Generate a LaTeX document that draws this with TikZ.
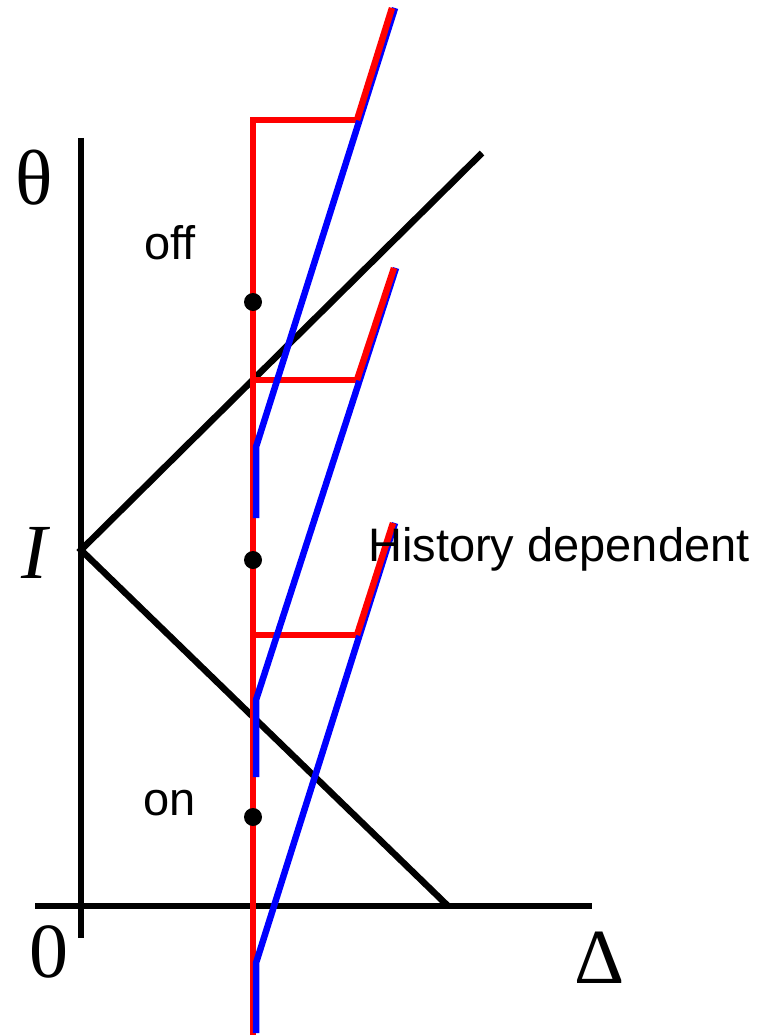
\documentclass[tikz,border=0pt]{standalone}
\usepackage{fontspec}
\setmainfont{Liberation Serif}
\newfontfamily\lsans{Liberation Sans}
\begin{document}
\begin{tikzpicture}[x=1pt,y=-1pt,
  axis/.style={line width=6.5pt,black},
  redl/.style={line width=6.5pt,red,line join=miter},
  bluel/.style={line width=6.5pt,blue},
  dotn/.style={circle,fill=black,inner sep=0pt,minimum size=18pt},
  lbl/.style={font=\lsans\fontsize{47}{47}\selectfont,inner sep=0pt},
  big/.style={font=\fontsize{78}{78}\selectfont,inner sep=0pt}]
\useasboundingbox (0,0) rectangle (764,1035);
% axes
\coordinate (ytop) at (81,138);
\coordinate (ybot) at (81,938);
\coordinate (xl) at (35,906);
\coordinate (xr) at (592,906);
\coordinate (I) at (81,550);
\coordinate (vu) at (482,153);
\coordinate (vd) at (448,906);
\draw[axis] (ytop) -- (ybot);
\draw[axis] (xl) -- (xr);
\draw[axis] (vu) -- (I) -- (vd);
% red verticals and horizontals
\coordinate (rb) at (253,1035);
\coordinate (r1) at (253,120);
\coordinate (h1) at (357,120);
\coordinate (t1) at (392,8);
\coordinate (r2) at (253,380);
\coordinate (h2) at (357,380);
\coordinate (t2) at (394,268);
\coordinate (r3) at (253,635);
\coordinate (h3) at (357,635);
\coordinate (t3) at (393,523);
\draw[redl] (rb) -- (r1) -- (h1);
\draw[redl] (r2) -- (h2);
\draw[redl] (r3) -- (h3);
% blue lines
\coordinate (b1s) at (256,518);
\coordinate (b1k) at (256,447);
\coordinate (b1t) at (395,8);
\coordinate (b2s) at (256,777);
\coordinate (b2k) at (256,700);
\coordinate (b2t) at (396,268);
\coordinate (b3s) at (256,1033);
\coordinate (b3k) at (256,963);
\coordinate (b3t) at (395,523);
\draw[bluel] (b1s) -- (b1k) -- (b1t);
\draw[bluel] (b2s) -- (b2k) -- (b2t);
\draw[bluel] (b3s) -- (b3k) -- (b3t);
% red slants
\draw[redl] (h1) -- (t1);
\draw[redl] (h2) -- (t2);
\draw[redl] (h3) -- (t3);
% dots
\node[dotn] (d1) at (253,302) {};
\node[dotn] (d2) at (253,560) {};
\node[dotn] (d3) at (253,817) {};
% labels
\node[lbl] (off) at (170,243) {off};
\node[lbl] (on) at (170,803) {on};
\node[lbl,anchor=west] (hist) at (368,549) {History dependent};
\node[big] (theta) at (34,178) {θ};
\node[big] (Ilab) at (34,553) {\itshape I};
\node[big] (zero) at (49,952) {0};
\node[big] (delta) at (600,958) {Δ};
\end{tikzpicture}
\end{document}
